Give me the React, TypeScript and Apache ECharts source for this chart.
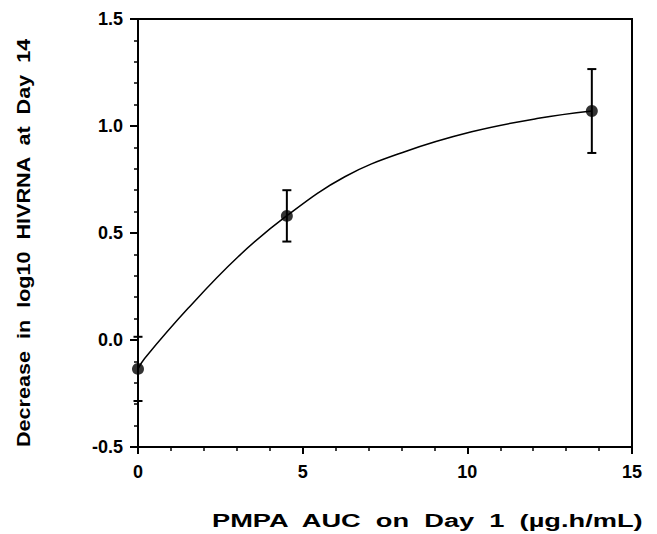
import React, { useEffect, useRef } from "react";
import * as echarts from "echarts";

const xLabelTicks = [0, 5, 10, 15];
const yLabelTicks = [-0.5, 0.0, 0.5, 1.0, 1.5];
const pointX = [0, 4.52, 13.78];
const pointY = [-0.135, 0.58, 1.07];
const errLow = [-0.285, 0.46, 0.874];
const errHigh = [0.015, 0.70, 1.266];
const fitX = [0, 0.2, 1.52, 3.04, 4.52, 6.28, 8.1, 10.13, 12.16, 13.78];
const fitY = [-0.135, -0.086, 0.148, 0.389, 0.581, 0.763, 0.88, 0.973, 1.036, 1.07];
const xTitle = "PMPA  AUC  on  Day  1  (\u00b5g.h/mL)";
const yTitle = "Decrease  in  log10  HIVRNA  at  Day  14";

const FONT = "'Liberation Sans', Arial, Helvetica, sans-serif";
const TITLE_FONT = `bold 19px ${FONT}`;

function measure(text: string, font: string): number {
  const c = document.createElement("canvas");
  const ctx = c.getContext("2d");
  if (!ctx) return text.length * 10;
  ctx.font = font;
  return ctx.measureText(text).width;
}

export default function App() {
  const ref = useRef<HTMLDivElement>(null);
  useEffect(() => {
    if (!ref.current) return;
    const chart = echarts.init(ref.current, null, { renderer: "svg" });
    const xTitleScale = 433 / measure(xTitle, TITLE_FONT);
    const yTitleScale = 409 / measure(yTitle, TITLE_FONT);
    const axisCommon = {
      axisLine: { show: true, onZero: false, lineStyle: { color: "#000", width: 2 } },
      axisTick: { show: true, inside: false, length: 8, lineStyle: { color: "#000", width: 2 } },
      minorTick: { show: true, splitNumber: 5, length: 4, lineStyle: { color: "#000", width: 1.5 } },
      splitLine: { show: false },
      minorSplitLine: { show: false },
    };
    chart.setOption({
      animation: false,
      backgroundColor: "#fff",
      grid: {
        left: 138,
        right: 25,
        top: 19,
        bottom: 87,
        show: true,
        borderColor: "#000",
        borderWidth: 2,
        backgroundColor: "transparent",
      },
      xAxis: {
        type: "value",
        min: xLabelTicks[0],
        max: xLabelTicks[xLabelTicks.length - 1],
        interval: 5,
        ...axisCommon,
        axisTick: { ...axisCommon.axisTick, length: 7 },
        axisLabel: {
          margin: 16,
          color: "#000",
          fontFamily: FONT,
          fontWeight: "bold",
          fontSize: 18,
          formatter: (v: number) => String(v),
        },
      },
      yAxis: {
        type: "value",
        min: yLabelTicks[0],
        max: yLabelTicks[yLabelTicks.length - 1],
        interval: 0.5,
        ...axisCommon,
        axisLabel: {
          margin: 15,
          color: "#000",
          fontFamily: FONT,
          fontWeight: "bold",
          fontSize: 18,
          formatter: (v: number) => v.toFixed(1),
        },
      },
      graphic: [
        {
          type: "text",
          x: 212,
          y: 511,
          scaleX: xTitleScale,
          style: {
            text: xTitle,
            fill: "#000",
            font: TITLE_FONT,
            align: "left",
            verticalAlign: "top",
          },
        },
        {
          type: "text",
          x: 14,
          y: 447,
          rotation: Math.PI / 2,
          scaleX: yTitleScale,
          style: {
            text: yTitle,
            fill: "#000",
            font: TITLE_FONT,
            align: "left",
            verticalAlign: "top",
          },
        },
      ],
      series: [
        {
          type: "line",
          data: fitX.map((x, i) => [x, fitY[i]]),
          smooth: 0.4,
          showSymbol: false,
          lineStyle: { color: "#000", width: 1.5 },
          z: 2,
        },
        {
          type: "custom",
          data: pointX.map((x, i) => [x, errLow[i], errHigh[i]]),
          renderItem: (params: any, api: any) => {
            const x = api.value(0);
            const lo = api.coord([x, api.value(1)]);
            const hi = api.coord([x, api.value(2)]);
            const w = 4.5;
            const style = { stroke: "#000", lineWidth: 2 };
            return {
              type: "group",
              children: [
                { type: "line", shape: { x1: lo[0], y1: lo[1], x2: hi[0], y2: hi[1] }, style },
                { type: "line", shape: { x1: lo[0] - w, y1: lo[1], x2: lo[0] + w, y2: lo[1] }, style },
                { type: "line", shape: { x1: hi[0] - w, y1: hi[1], x2: hi[0] + w, y2: hi[1] }, style },
              ],
            };
          },
          z: 3,
        },
        {
          type: "scatter",
          data: pointX.map((x, i) => [x, pointY[i]]),
          symbol: "circle",
          symbolSize: 12,
          itemStyle: { color: "#000" },
          z: 4,
        },
      ],
    });
    return () => chart.dispose();
  }, []);
  return (
    <div
      ref={ref}
      style={{ position: "fixed", left: 0, top: 0, width: 657, height: 534 }}
    />
  );
}
